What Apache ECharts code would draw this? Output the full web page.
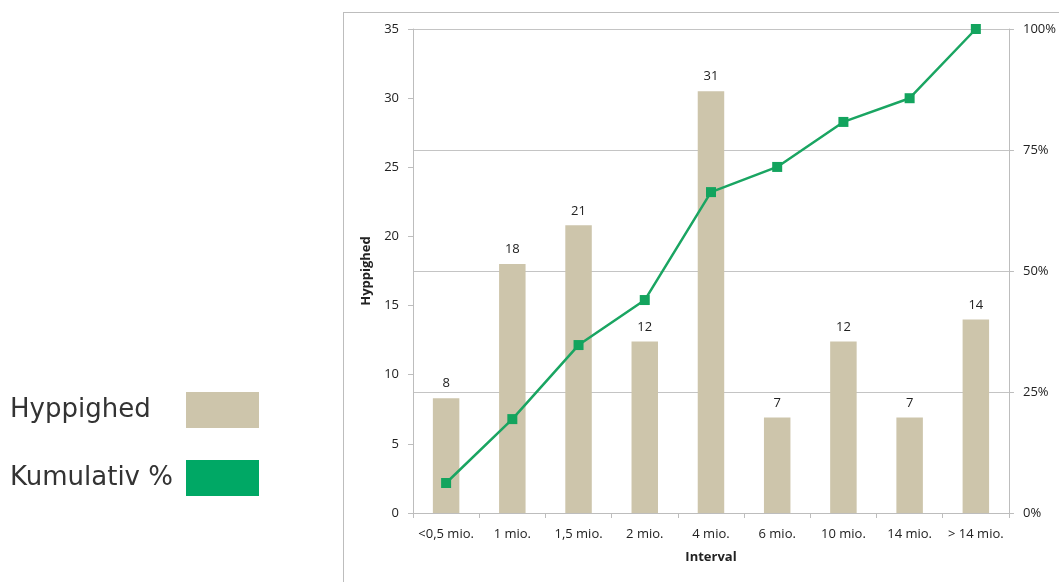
<!DOCTYPE html>
<html><head><meta charset="utf-8">
<script src="https://cdn.jsdelivr.net/npm/echarts@6/dist/echarts.min.js"></script>
<style>html,body{margin:0;padding:0;background:#fff}#c{width:1059px;height:582px}</style>
</head><body><div id="c"></div>
<script>
const categories = ['<0,5 mio.', '1 mio.', '1,5 mio.', '2 mio.', '4 mio.', '6 mio.', '10 mio.', '14 mio.', '> 14 mio.'];
const hyppighed = [8.3, 18, 20.8, 12.4, 30.5, 6.9, 12.4, 6.9, 14];
const kumulativ = [6.2, 19.4, 34.7, 44.0, 66.3, 71.5, 80.8, 85.7, 100];
const leftTicks = [0, 5, 10, 15, 20, 25, 30, 35];
const rightTicks = [0, 25, 50, 75, 100];

const chart = echarts.init(document.getElementById('c'));
const F = '"Open Sans", "Noto Sans", sans-serif';
chart.setOption({
  animation: false,
  grid: { left: 413, right: 46, top: 29, bottom: 69 },
  legend: {
    orient: 'vertical', left: 5, top: 387, itemGap: 32,
    itemWidth: 73, itemHeight: 36, align: 'right',
    formatter: name => '{t|' + name + '}',
    textStyle: {
      fontFamily: '"DejaVu Sans", sans-serif', fontSize: 26, color: '#333',
      rich: { t: { width: 171, align: 'left', fontFamily: '"DejaVu Sans", sans-serif', fontSize: 26, color: '#333' } }
    },
    data: [{ name: 'Hyppighed', icon: 'rect' }, { name: 'Kumulativ %', icon: 'rect', itemStyle: { color: '#00a865' } }]
  },
  graphic: [
    { type: 'line', shape: { x1: 343.5, y1: 12, x2: 343.5, y2: 582 }, style: { stroke: '#bdbdbd', lineWidth: 1 } },
    { type: 'line', shape: { x1: 343, y1: 12.5, x2: 1059, y2: 12.5 }, style: { stroke: '#bdbdbd', lineWidth: 1 } }
  ],
  xAxis: {
    type: 'category', data: categories,
    name: 'Interval', nameLocation: 'middle', nameGap: 38,
    nameTextStyle: { fontFamily: F, fontSize: 13, fontWeight: 'bold', color: '#222' },
    axisLine: { lineStyle: { color: '#bdbdbd' } },
    axisTick: { show: true, length: 5, lineStyle: { color: '#bdbdbd' } },
    axisLabel: { fontFamily: F, fontSize: 13, color: '#222', margin: 15, interval: 0 }
  },
  yAxis: [
    {
      type: 'value', min: 0, max: 35, interval: 5,
      name: 'Hyppighed', nameLocation: 'middle', nameGap: 36, nameRotate: 90,
      nameTextStyle: { fontFamily: F, fontSize: 13, fontWeight: 'bold', color: '#222' },
      axisLine: { show: true, lineStyle: { color: '#bdbdbd' } },
      axisTick: { show: true, length: 5, lineStyle: { color: '#bdbdbd' } },
      axisLabel: { fontFamily: F, fontSize: 13, color: '#222', margin: 14, formatter: v => leftTicks.includes(v) ? String(v) : '' },
      splitLine: { show: false }
    },
    {
      type: 'value', min: 0, max: 100, interval: 25, position: 'right',
      axisLine: { show: true, lineStyle: { color: '#bdbdbd' } },
      axisTick: { show: true, length: 5, lineStyle: { color: '#bdbdbd' } },
      axisLabel: { fontFamily: F, fontSize: 13, color: '#222', margin: 14, formatter: v => rightTicks.includes(v) ? v + '%' : '' },
      splitLine: { show: true, lineStyle: { color: '#c4c4c4' } }
    }
  ],
  series: [
    {
      name: 'Hyppighed', type: 'bar', data: hyppighed, yAxisIndex: 0, barWidth: '40%',
      itemStyle: { color: '#cdc5ab' },
      label: { show: true, position: 'top', distance: 8, fontFamily: F, fontSize: 13, color: '#222', formatter: p => Math.round(p.value) }
    },
    {
      name: 'Kumulativ %', type: 'line', data: kumulativ, yAxisIndex: 1,
      symbol: 'rect', symbolSize: 10, showSymbol: true,
      lineStyle: { color: '#1aa562', width: 2.5 },
      itemStyle: { color: '#13a45e' }
    }
  ]
});
</script></body></html>
